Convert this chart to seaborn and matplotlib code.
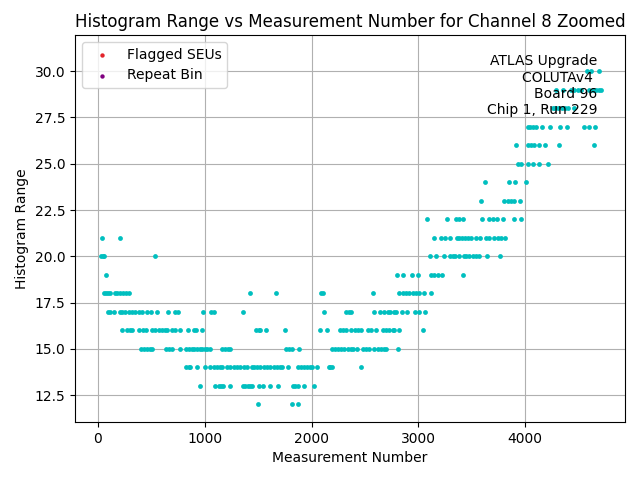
import matplotlib
matplotlib.use("Agg")
import matplotlib.pyplot as plt
import seaborn as sns
import pandas as pd

# Measurement numbers observed at each histogram-range value
meas_at_12 = [1495, 1813, 1869]
meas_at_13 = [953, 1093, 1131, 1153, 1171, 1234, 1355, 1380, 1405, 1427, 1442,
              1505, 1545, 1614, 1685, 1822, 1847, 1878, 1931, 2019]
meas_at_14 = [829, 850, 866, 928, 1006, 1053, 1084, 1115, 1146, 1162, 1209, 1240,
              1271, 1302, 1333, 1364, 1396, 1442, 1464, 1489, 1520, 1551, 1582,
              1614, 1645, 1676, 1707, 1723, 1779, 1878, 1900, 1925, 1956, 1981,
              2003, 2050, 2159, 2174, 2196, 2460]
meas_at_15 = [408, 430, 461, 486, 508, 642, 664, 695, 773, 829, 850, 882, 903, 928,
              953, 975, 1000, 1022, 1053, 1162, 1193, 1218, 1240, 1763, 1791, 1816,
              1885, 2190, 2215, 2245, 2275, 2305, 2340, 2365, 2386, 2430, 2480,
              2505, 2533, 2589, 2620, 2651, 2676, 2698, 2813]
meas_at_16 = [224, 274, 299, 324, 386, 421, 455, 511, 539, 570, 601, 632, 648, 695,
              726, 773, 844, 897, 922, 978, 1480, 1505, 1520, 1570, 1748, 2081,
              2143, 2265, 2290, 2320, 2370, 2405, 2433, 2460, 2527, 2558, 2604,
              2667, 2698, 2729, 2760, 2776, 2822, 3040]
meas_at_17 = [93, 118, 150, 206, 227, 252, 293, 321, 352, 383, 414, 461, 502, 551,
              660, 720, 754, 984, 1059, 1090, 1361, 2112, 2324, 2350, 2371, 2583,
              2636, 2682, 2713, 2738, 2769, 2791, 2847, 2897, 2969, 3003, 3065]
meas_at_18 = [62, 80, 100, 118, 162, 181, 206, 237, 265, 293, 1420, 1663, 2090,
              2105, 2579, 2822, 2854, 2885, 2916, 2947, 2978, 3009, 3056, 3121]
meas_at_19 = [75, 2801, 2860, 2941, 2994, 3118, 3150, 3181, 3218, 3421]
meas_at_20 = [31, 45, 56, 533, 3106, 3168, 3237, 3299, 3321, 3343, 3383, 3424,
              3445, 3477, 3514, 3539, 3570, 3642, 3766]
meas_at_21 = [44, 206, 3150, 3212, 3252, 3299, 3361, 3383, 3405, 3436, 3461, 3492,
              3539, 3579, 3632, 3663, 3704, 3741, 3773, 3810]
meas_at_22 = [3084, 3270, 3352, 3383, 3414, 3597, 3663, 3695, 3732, 3788, 3894, 3963]
meas_at_23 = [3586, 3804, 3835, 3866, 3897, 3953]
meas_at_24 = [3625, 3844, 3906, 4009]
meas_at_25 = [3928, 3959, 4022, 4069, 4131, 4209]
meas_at_26 = [3916, 4022, 4053, 4084, 4131, 4188, 4313, 4647]
meas_at_27 = [4022, 4045, 4070, 4100, 4160, 4235, 4320, 4390, 4552, 4600, 4650]
meas_at_28 = [4255, 4280, 4310, 4340, 4370, 4400, 4458]
meas_at_29 = [4287, 4350, 4427, 4460, 4490, 4520, 4598, 4630, 4660, 4690, 4707]
meas_at_30 = [4580, 4610, 4690]

range_values = list(range(12, 31))
meas_lists = [meas_at_12, meas_at_13, meas_at_14, meas_at_15, meas_at_16,
              meas_at_17, meas_at_18, meas_at_19, meas_at_20, meas_at_21,
              meas_at_22, meas_at_23, meas_at_24, meas_at_25, meas_at_26,
              meas_at_27, meas_at_28, meas_at_29, meas_at_30]

flagged_seu_meas = []
flagged_seu_range = []
repeat_bin_meas = []
repeat_bin_range = []

rows = []
for rv, ml in zip(range_values, meas_lists):
    for m in ml:
        rows.append({"Measurement Number": m, "Histogram Range": rv})
df = pd.DataFrame(rows)

fig, ax = plt.subplots(figsize=(6.4, 4.8), dpi=100)
sns.scatterplot(data=df, x="Measurement Number", y="Histogram Range", ax=ax,
                color="c", s=12, linewidth=0, zorder=2)
ax.scatter(flagged_seu_meas, flagged_seu_range, c="#e3242b", s=10, linewidths=0,
           label="Flagged SEUs")
ax.scatter(repeat_bin_meas, repeat_bin_range, c="purple", s=10, linewidths=0,
           label="Repeat Bin")

ax.grid(True)
ax.set_axisbelow(True)
ax.set_xlim(-210, 4933)
ax.set_ylim(11.05, 31.95)
ax.set_xlabel("Measurement Number")
ax.set_ylabel("Histogram Range")
ax.set_title("Histogram Range vs Measurement Number for Channel 8 Zoomed")
ax.legend(loc="upper left")
ax.text(0.95, 0.95, "ATLAS Upgrade\nCOLUTAv4 \nBoard 96\nChip 1, Run 229",
        ha="right", va="top", transform=ax.transAxes, zorder=5)

fig.subplots_adjust(left=0.1177, right=0.9766, top=0.927, bottom=0.1208)
fig.savefig("out.png", dpi=100)
